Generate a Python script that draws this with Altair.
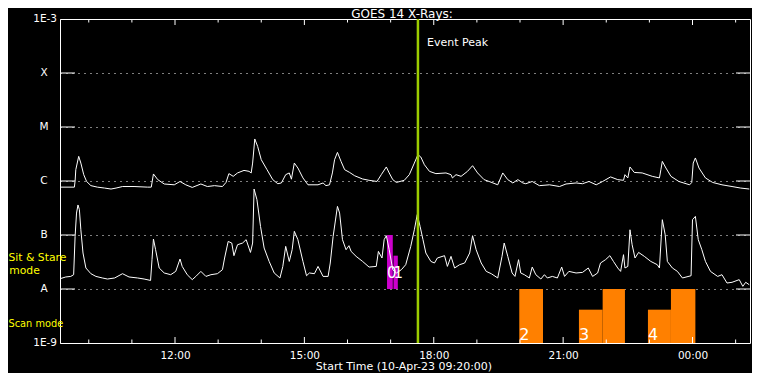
import altair as alt
import pandas as pd

# ---------------- data ----------------
long_times = ["09:20", "09:40", "09:41", "09:42", "09:46", "09:49", "09:53", "09:57", "10:03", "10:12",
              "10:22", "10:31", "10:38", "10:47", "11:03", "11:22", "11:27", "11:30", "11:36", "11:45",
              "11:59", "12:07", "12:15", "12:24", "12:36", "12:45", "12:55", "13:06", "13:11", "13:15",
              "13:21", "13:27", "13:36", "13:43", "13:46", "13:48", "13:51", "13:55", "14:00", "14:08",
              "14:16", "14:23", "14:28", "14:34", "14:39", "14:42", "14:46", "14:51", "14:58", "15:05",
              "15:19", "15:26", "15:30", "15:35", "15:39", "15:42", "15:46", "15:51", "15:56", "16:03",
              "16:10", "16:21", "16:30", "16:41", "16:47", "16:54", "16:58", "17:03", "17:08", "17:19",
              "17:26", "17:33", "17:38", "17:42", "17:47", "17:54", "18:03", "18:17", "18:24", "18:26",
              "18:31", "18:38", "18:47", "18:54", "19:01", "19:10", "19:17", "19:29", "19:36", "19:43",
              "19:50", "19:57", "20:04", "20:08", "20:17", "20:27", "20:41", "20:55", "21:04", "21:18",
              "21:27", "21:36", "21:46", "21:55", "22:06", "22:16", "22:24", "22:26", "22:30", "22:33",
              "22:39", "22:50", "23:04", "23:14", "23:16", "23:18", "23:23", "23:30", "23:41", "23:56",
              "23:59", "00:01", "00:04", "00:09", "00:18", "00:28", "00:41", "00:55", "01:07", "01:19"]
long_flux = [7.7e-7, 7.7e-7, 1.0e-6, 1.62e-6, 2.86e-6, 2.15e-6, 1.31e-6, 9.8e-7, 8.2e-7, 7.7e-7,
             7.4e-7, 7.1e-7, 7.4e-7, 7.9e-7, 7.9e-7, 7.7e-7, 7.7e-7, 1.35e-6, 1.06e-6, 8.8e-7,
             8.5e-7, 9.8e-7, 8.5e-7, 7.6e-7, 8.8e-7, 7.9e-7, 8.2e-7, 7.9e-7, 9.4e-7, 1.37e-6,
             1.22e-6, 1.41e-6, 1.57e-6, 1.51e-6, 1.41e-6, 2.15e-6, 6.0e-6, 4.37e-6, 2.48e-6, 1.62e-6,
             1.06e-6, 8.9e-7, 9.2e-7, 1.31e-6, 1.41e-6, 1.08e-6, 2.15e-6, 1.74e-6, 1.14e-6, 8.5e-7,
             8.5e-7, 9.2e-7, 8.2e-7, 8.5e-7, 1.41e-6, 2.48e-6, 3.39e-6, 2.31e-6, 1.62e-6, 1.44e-6,
             1.25e-6, 1.09e-6, 1.03e-6, 9.8e-7, 1.31e-6, 1.82e-6, 1.41e-6, 1.06e-6, 9.4e-7, 1.03e-6,
             1.31e-6, 2.15e-6, 3.07e-6, 2.78e-6, 2.0e-6, 1.51e-6, 1.37e-6, 1.41e-6, 1.31e-6, 1.14e-6,
             1.31e-6, 1.22e-6, 1.51e-6, 1.92e-6, 1.41e-6, 1.06e-6, 9.8e-7, 8.5e-7, 1.41e-6, 1.06e-6,
             9.2e-7, 1.06e-6, 9.2e-7, 8.9e-7, 9.8e-7, 8.2e-7, 8.5e-7, 7.9e-7, 8.8e-7, 9.2e-7,
             8.9e-7, 9.8e-7, 8.5e-7, 9.8e-7, 1.19e-6, 1.06e-6, 1.03e-6, 1.31e-6, 1.14e-6, 1.82e-6,
             1.44e-6, 1.41e-6, 1.22e-6, 1.14e-6, 1.62e-6, 2.31e-6, 1.74e-6, 1.22e-6, 9.8e-7, 8.5e-7,
             9.4e-7, 2.15e-6, 2.67e-6, 1.74e-6, 1.14e-6, 9.4e-7, 8.5e-7, 7.9e-7, 7.4e-7, 7.1e-7]

short_times = ["09:20", "09:28", "09:35", "09:39", "09:41", "09:43", "09:45", "09:47", "09:49", "09:52",
               "09:56", "10:03", "10:10", "10:19", "10:26", "10:36", "10:47", "10:56", "11:08", "11:17",
               "11:26", "11:28", "11:30", "11:33", "11:38", "11:45", "11:54", "12:01", "12:07", "12:10",
               "12:17", "12:24", "12:29", "12:36", "12:43", "12:50", "12:59", "13:06", "13:09", "13:14",
               "13:19", "13:22", "13:27", "13:34", "13:39", "13:45", "13:48", "13:50", "13:54", "13:59",
               "14:04", "14:11", "14:18", "14:26", "14:30", "14:34", "14:39", "14:43", "14:46", "14:51",
               "14:58", "15:03", "15:07", "15:14", "15:19", "15:26", "15:33", "15:36", "15:40", "15:46",
               "15:49", "15:53", "15:58", "16:02", "16:05", "16:12", "16:21", "16:30", "16:40", "16:43",
               "16:48", "16:51", "16:54", "16:58", "17:03", "17:08", "17:15", "17:21", "17:28", "17:33",
               "17:37", "17:41", "17:45", "17:49", "17:56", "18:01", "18:05", "18:15", "18:19", "18:24",
               "18:29", "18:36", "18:43", "18:50", "18:54", "18:59", "19:06", "19:13", "19:20", "19:29",
               "19:35", "19:38", "19:43", "19:49", "19:53", "19:58", "20:01", "20:06", "20:13", "20:17",
               "20:22", "20:29", "20:34", "20:38", "20:45", "20:52", "20:58", "21:02", "21:08", "21:18",
               "21:27", "21:35", "21:41", "21:48", "21:52", "21:59", "22:05", "22:10", "22:16", "22:20",
               "22:24", "22:26", "22:30", "22:33", "22:36", "22:40", "22:45", "22:53", "23:02", "23:11",
               "23:14", "23:18", "23:22", "23:25", "23:32", "23:39", "23:46", "23:58", "00:00", "00:02",
               "00:04", "00:08", "00:13", "00:18", "00:25", "00:35", "00:41", "00:48", "00:55", "01:05",
               "01:10", "01:14", "01:19"]
short_flux = [1.55e-8, 1.67e-8, 1.71e-8, 1.84e-8, 9.4e-8, 2.55e-7, 3.6e-7, 2.95e-7, 1.25e-7, 4.64e-8,
              2.45e-8, 1.92e-8, 1.71e-8, 1.6e-8, 1.53e-8, 1.6e-8, 1.92e-8, 1.67e-8, 1.6e-8, 1.53e-8,
              1.44e-8, 3.49e-8, 8.43e-8, 5.34e-8, 2.45e-8, 1.98e-8, 1.84e-8, 2.12e-8, 3.59e-8, 2.62e-8,
              1.84e-8, 1.49e-8, 1.71e-8, 2.12e-8, 1.71e-8, 1.84e-8, 1.92e-8, 2.28e-8, 3.75e-8, 7.6e-8,
              7.1e-8, 4.14e-8, 6.6e-8, 7.1e-8, 8.2e-8, 4.76e-8, 7.1e-8, 7.1e-7, 4.51e-7, 1.44e-7,
              5.74e-8, 3.24e-8, 1.98e-8, 1.6e-8, 2.62e-8, 6.16e-8, 3.24e-8, 5.34e-8, 1.17e-7, 8.2e-8,
              3.24e-8, 1.76e-8, 1.98e-8, 1.92e-8, 2.62e-8, 1.71e-8, 1.71e-8, 3.03e-8, 9.4e-8, 3.39e-7,
              2.55e-7, 8.2e-8, 5.34e-8, 6.34e-8, 4.97e-8, 4.02e-8, 3.24e-8, 2.55e-8, 2.62e-8, 4.97e-8,
              3.75e-8, 8.2e-8, 9.7e-8, 5.34e-8, 2.28e-8, 1.98e-8, 2.28e-8, 2.82e-8, 6.16e-8, 1.25e-7,
              2.38e-7, 1.44e-7, 8.2e-8, 4.64e-8, 3.24e-8, 3.03e-8, 3.75e-8, 4.14e-8, 2.62e-8, 4.02e-8,
              2.45e-8, 2.82e-8, 3.03e-8, 4.64e-8, 9.7e-8, 5.34e-8, 3.03e-8, 2.12e-8, 1.92e-8, 1.6e-8,
              4.02e-8, 7.1e-8, 4.02e-8, 1.98e-8, 1.71e-8, 3.49e-8, 1.98e-8, 1.84e-8, 1.6e-8, 2.55e-8,
              1.84e-8, 1.53e-8, 1.84e-8, 1.6e-8, 1.71e-8, 1.6e-8, 2.55e-8, 1.71e-8, 2.12e-8, 1.98e-8,
              2.03e-8, 2.45e-8, 1.71e-8, 1.98e-8, 3.03e-8, 3.49e-8, 4.14e-8, 3.24e-8, 2.45e-8, 2.12e-8,
              4.32e-8, 2.45e-8, 2.62e-8, 1.25e-7, 6.6e-8, 3.75e-8, 4.76e-8, 4.02e-8, 3.24e-8, 2.82e-8,
              2.45e-8, 1.92e-7, 1.01e-7, 3.24e-8, 2.45e-8, 2.12e-8, 1.6e-8, 1.76e-8, 1.92e-7, 2.06e-7,
              2.21e-7, 8.2e-8, 5.34e-8, 3.24e-8, 2.12e-8, 1.71e-8, 1.84e-8, 1.29e-8, 1.33e-8, 1.49e-8,
              1.12e-8, 1.33e-8, 1.2e-8]

# Sit & stare intervals (magenta)
stare_start = ["16:55", "17:04"]
stare_end = ["17:03", "17:10"]
stare_top = [1.0e-7, 4.14e-8]
stare_labels = ["0", "1"]

# Scan mode intervals (orange)
scan_start = ["19:59", "21:22", "21:55", "22:58", "23:30"]
scan_end = ["20:32", "21:55", "22:26", "23:30", "00:04"]
scan_top = [1.0e-8, 4.14e-9, 1.0e-8, 4.14e-9, 1.0e-8]
scan_label_times = ["19:59", "21:22", "22:58"]
scan_labels = ["2", "3", "4"]

event_peak = "17:38"

levels = [1e-8, 1e-7, 1e-6, 1e-5, 1e-4]
level_names = ["A", "B", "C", "M", "X"]
end_levels = [1e-3, 1e-9]
end_names = ["1E-3", "1E-9"]

major_hours = ["12:00", "15:00", "18:00", "21:00", "00:00"]
minor_hours = ["10:00", "11:00", "13:00", "14:00", "16:00", "17:00", "19:00", "20:00",
               "22:00", "23:00", "01:00"]


def stamp(hm):
    h, m = map(int, hm.split(":"))
    day = 11 if h < 9 else 10
    return f"2023-04-{day:02d}T{h:02d}:{m:02d}:00Z"


long_df = pd.DataFrame({"t": [stamp(s) for s in long_times], "flux": long_flux})
short_df = pd.DataFrame({"t": [stamp(s) for s in short_times], "flux": short_flux})
stare_df = pd.DataFrame({"t": [stamp(s) for s in stare_start], "t2": [stamp(s) for s in stare_end],
                         "lo": [1e-8] * len(stare_start), "hi": stare_top, "lab": stare_labels})
scan_df = pd.DataFrame({"t": [stamp(s) for s in scan_start], "t2": [stamp(s) for s in scan_end],
                        "lo": [1e-9] * len(scan_start), "hi": scan_top})
scan_lab_df = pd.DataFrame({"t": [stamp(s) for s in scan_label_times], "lab": scan_labels,
                            "flux": [1e-9] * len(scan_labels)})
event_df = pd.DataFrame({"t": [stamp(event_peak)], "lab": ["Event Peak"]})
lev_df = pd.DataFrame({"flux": levels, "name": level_names})
end_df = pd.DataFrame({"flux": end_levels, "name": end_names})
major_df = pd.DataFrame({"t": [stamp(s) for s in major_hours]})
minor_df = pd.DataFrame({"t": [stamp(s) for s in minor_hours]})

W, H = 690, 324
WHITE = "#ffffff"
YELLOW = "#ffff00"
FONT = "DejaVu Sans"

x_scale = alt.Scale(type="utc", nice=False,
                    domain=[alt.DateTime(year=2023, month=4, date=10, hours=9, minutes=20, utc=True),
                            alt.DateTime(year=2023, month=4, date=11, hours=1, minutes=20, utc=True)])
y_scale = alt.Scale(type="log", domain=[1e-9, 1e-3], nice=False)

x_axis = alt.Axis(values=[alt.DateTime(year=2023, month=4, date=10, hours=h, utc=True) for h in (12, 15, 18, 21)]
                  + [alt.DateTime(year=2023, month=4, date=11, hours=0, utc=True)],
                  labelExpr="utcFormat(datum.value, '%H:%M')", title="",
                  ticks=False, tickSize=0, domain=False, grid=False, labelPadding=7,
                  labelColor=WHITE, labelFontSize=10.5, labelFont=FONT)
y_axis = alt.Axis(values=[1e-9, 1e-8, 1e-7, 1e-6, 1e-5, 1e-4, 1e-3], labels=False, ticks=False, domain=False,
                  grid=True, gridColor=WHITE, gridDash=[1, 5], gridWidth=1, gridOpacity=1, title="")


def X(f="t"):
    return alt.X(f"{f}:T", scale=x_scale, axis=x_axis)


def Y(f="flux"):
    return alt.Y(f"{f}:Q", scale=y_scale, axis=y_axis)


scan = alt.Chart(scan_df).mark_rect(color="#ff8000").encode(x=X(), x2="t2:T", y=Y("lo"), y2="hi:Q")
stare = alt.Chart(stare_df).mark_rect(color="#cc00cc").encode(x=X(), x2="t2:T", y=Y("lo"), y2="hi:Q")

long_line = alt.Chart(long_df).mark_line(color=WHITE, strokeWidth=1).encode(x=X(), y=Y())
short_line = alt.Chart(short_df).mark_line(color=WHITE, strokeWidth=1).encode(x=X(), y=Y())

stare_text = alt.Chart(stare_df).mark_text(color=WHITE, fontSize=15, font=FONT, align="left",
                                           baseline="bottom", dy=-8).encode(
    x=X(), y=Y("lo"), text="lab:N")

peak = alt.Chart(event_df).mark_rule(color="#9ccc00", strokeWidth=2.5).encode(x=X())
peak_text = alt.Chart(event_df).mark_text(color=WHITE, fontSize=11, font=FONT, align="left",
                                          baseline="middle", dx=9).encode(
    x=X(), y=alt.value(24), text="lab:N")

scan_text = alt.Chart(scan_lab_df).mark_text(color=WHITE, fontSize=16, font=FONT, align="left",
                                             baseline="bottom").encode(
    x=X(), y=Y(), text="lab:N")

# inner ticks on the y axis (both sides)
ytick_l = alt.Chart(lev_df).mark_rule(color=WHITE, strokeWidth=1).encode(
    y=Y(), x=alt.value(0), x2=alt.value(15))
ytick_r = alt.Chart(lev_df).mark_rule(color=WHITE, strokeWidth=1).encode(
    y=Y(), x=alt.value(W - 14), x2=alt.value(W))


# inner ticks on the time axis (top and bottom)
def hour_ticks(df, length):
    top = alt.Chart(df).mark_rule(color=WHITE, strokeWidth=1).encode(
        x=X(), y=alt.value(0), y2=alt.value(length))
    bot = alt.Chart(df).mark_rule(color=WHITE, strokeWidth=1).encode(
        x=X(), y=alt.value(H - length), y2=alt.value(H))
    return top + bot


lev_text = alt.Chart(lev_df).mark_text(color=WHITE, fontSize=10.5, font=FONT, align="center",
                                       baseline="middle").encode(
    y=Y(), x=alt.value(-16), text="name:N")
end_text = alt.Chart(end_df).mark_text(color=WHITE, fontSize=10.5, font=FONT, align="right",
                                       baseline="middle").encode(
    y=Y(), x=alt.value(-3), text="name:N")


def note(label, x, y, size, color, align="left", baseline="middle"):
    df = pd.DataFrame({"lab": [label]})
    return alt.Chart(df).mark_text(color=color, fontSize=size, font=FONT, align=align,
                                   baseline=baseline).encode(text="lab:N", x=alt.value(x), y=alt.value(y))


mode1 = note("Sit & Stare", -51.5, 239, 10.8, YELLOW)
mode2 = note("mode", -35.5, 252, 10.8, YELLOW, align="center")
mode3 = note("Scan mode", -51.5, 304.5, 9.8, YELLOW)
title_text = note("GOES 14 X-Rays:", W / 2 - 3, -1.5, 12, WHITE, align="center", baseline="alphabetic")
xtitle_text = note("Start Time (10-Apr-23 09:20:00)", W / 2 - 1, H + 24, 11, WHITE, align="center")

chart = alt.layer(
    scan, stare, long_line, short_line, stare_text, peak, peak_text, scan_text,
    ytick_l, ytick_r, hour_ticks(major_df, 6), hour_ticks(minor_df, 3.5),
    lev_text, end_text, mode1, mode2, mode3, title_text, xtitle_text
).properties(
    width=W, height=H, background="#000000",
    autosize=alt.AutoSizeParams(type="none"),
    padding={"left": 52, "top": 11, "right": 2, "bottom": 30},
).configure_view(stroke=WHITE, strokeWidth=1)

chart.save("out.html", embed_options={"renderer": "svg", "actions": False})
